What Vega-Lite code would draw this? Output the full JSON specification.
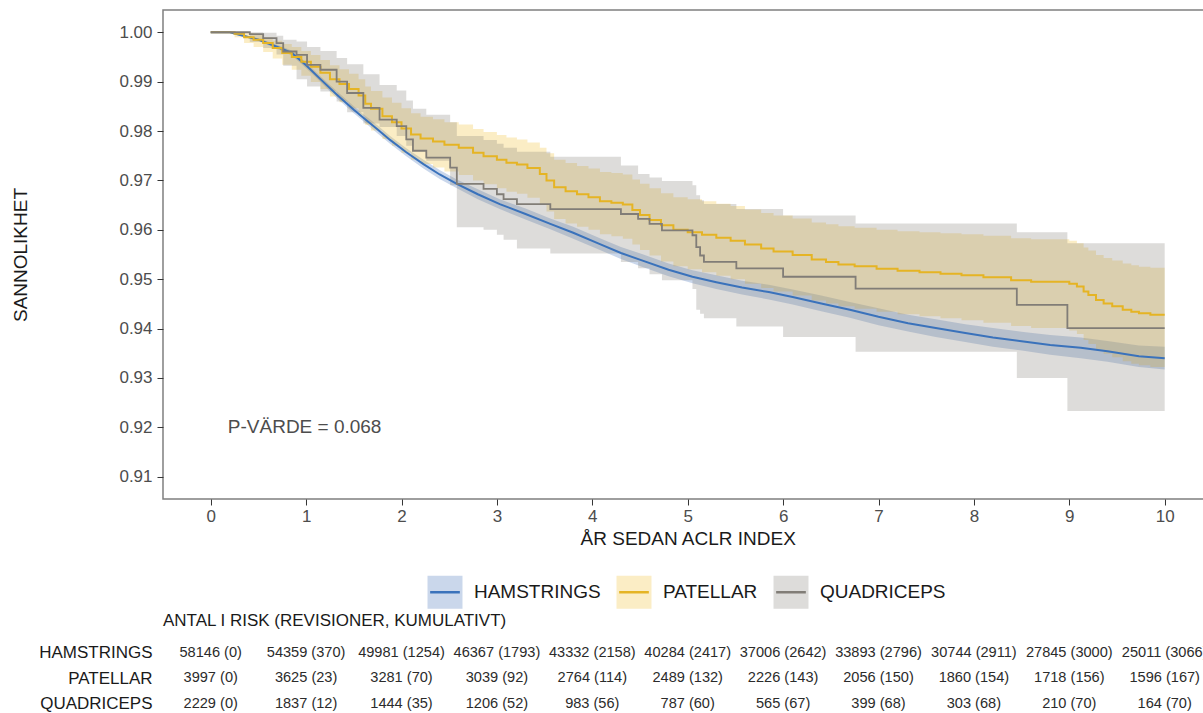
{
  "$schema": "https://vega.github.io/schema/vega-lite/v6.json",
  "padding": {"left": 11, "top": 9, "right": 0, "bottom": 0},
  "background": "white",
  "config": {
    "font": "Liberation Sans",
    "view": {"stroke": null},
    "concat": {"spacing": 62},
    "axis": {"grid": false}
  },
  "datasets": {
    "km": [
      {"band":"HAMSTRINGS","curve":"HAMSTRINGS","t":0,"S":1,"lo":1,"hi":1},
      {"band":"HAMSTRINGS","curve":"HAMSTRINGS","t":0.2,"S":1,"lo":0.9999,"hi":1},
      {"band":"HAMSTRINGS","curve":"HAMSTRINGS","t":0.3,"S":0.9995,"lo":0.9993,"hi":0.9997},
      {"band":"HAMSTRINGS","curve":"HAMSTRINGS","t":0.5,"S":0.9985,"lo":0.9982,"hi":0.9988},
      {"band":"HAMSTRINGS","curve":"HAMSTRINGS","t":0.7,"S":0.997,"lo":0.9966,"hi":0.9974},
      {"band":"HAMSTRINGS","curve":"HAMSTRINGS","t":0.85,"S":0.9958,"lo":0.9953,"hi":0.9963},
      {"band":"HAMSTRINGS","curve":"HAMSTRINGS","t":1.0,"S":0.9933,"lo":0.9927,"hi":0.9939},
      {"band":"HAMSTRINGS","curve":"HAMSTRINGS","t":1.15,"S":0.9905,"lo":0.9899,"hi":0.9911},
      {"band":"HAMSTRINGS","curve":"HAMSTRINGS","t":1.32,"S":0.9874,"lo":0.9867,"hi":0.9881},
      {"band":"HAMSTRINGS","curve":"HAMSTRINGS","t":1.5,"S":0.9843,"lo":0.9836,"hi":0.985},
      {"band":"HAMSTRINGS","curve":"HAMSTRINGS","t":1.6,"S":0.9827,"lo":0.982,"hi":0.9834},
      {"band":"HAMSTRINGS","curve":"HAMSTRINGS","t":1.75,"S":0.9803,"lo":0.9795,"hi":0.9811},
      {"band":"HAMSTRINGS","curve":"HAMSTRINGS","t":1.88,"S":0.9782,"lo":0.9774,"hi":0.979},
      {"band":"HAMSTRINGS","curve":"HAMSTRINGS","t":2.05,"S":0.9757,"lo":0.9749,"hi":0.9765},
      {"band":"HAMSTRINGS","curve":"HAMSTRINGS","t":2.23,"S":0.9733,"lo":0.9724,"hi":0.9742},
      {"band":"HAMSTRINGS","curve":"HAMSTRINGS","t":2.4,"S":0.9712,"lo":0.9703,"hi":0.9721},
      {"band":"HAMSTRINGS","curve":"HAMSTRINGS","t":2.58,"S":0.9693,"lo":0.9684,"hi":0.9702},
      {"band":"HAMSTRINGS","curve":"HAMSTRINGS","t":2.8,"S":0.9672,"lo":0.9662,"hi":0.9682},
      {"band":"HAMSTRINGS","curve":"HAMSTRINGS","t":3.03,"S":0.9652,"lo":0.9642,"hi":0.9662},
      {"band":"HAMSTRINGS","curve":"HAMSTRINGS","t":3.3,"S":0.9632,"lo":0.9621,"hi":0.9643},
      {"band":"HAMSTRINGS","curve":"HAMSTRINGS","t":3.56,"S":0.9612,"lo":0.9601,"hi":0.9623},
      {"band":"HAMSTRINGS","curve":"HAMSTRINGS","t":3.8,"S":0.9594,"lo":0.9582,"hi":0.9606},
      {"band":"HAMSTRINGS","curve":"HAMSTRINGS","t":4.08,"S":0.9571,"lo":0.9559,"hi":0.9583},
      {"band":"HAMSTRINGS","curve":"HAMSTRINGS","t":4.3,"S":0.9553,"lo":0.9541,"hi":0.9565},
      {"band":"HAMSTRINGS","curve":"HAMSTRINGS","t":4.52,"S":0.9538,"lo":0.9525,"hi":0.9551},
      {"band":"HAMSTRINGS","curve":"HAMSTRINGS","t":4.8,"S":0.9519,"lo":0.9506,"hi":0.9532},
      {"band":"HAMSTRINGS","curve":"HAMSTRINGS","t":5.05,"S":0.9505,"lo":0.9492,"hi":0.9518},
      {"band":"HAMSTRINGS","curve":"HAMSTRINGS","t":5.3,"S":0.9494,"lo":0.948,"hi":0.9508},
      {"band":"HAMSTRINGS","curve":"HAMSTRINGS","t":5.57,"S":0.9483,"lo":0.9469,"hi":0.9497},
      {"band":"HAMSTRINGS","curve":"HAMSTRINGS","t":5.85,"S":0.9474,"lo":0.9459,"hi":0.9489},
      {"band":"HAMSTRINGS","curve":"HAMSTRINGS","t":6.1,"S":0.9464,"lo":0.9449,"hi":0.9479},
      {"band":"HAMSTRINGS","curve":"HAMSTRINGS","t":6.4,"S":0.9451,"lo":0.9435,"hi":0.9467},
      {"band":"HAMSTRINGS","curve":"HAMSTRINGS","t":6.7,"S":0.9438,"lo":0.9422,"hi":0.9454},
      {"band":"HAMSTRINGS","curve":"HAMSTRINGS","t":7.0,"S":0.9424,"lo":0.9407,"hi":0.9441},
      {"band":"HAMSTRINGS","curve":"HAMSTRINGS","t":7.31,"S":0.9411,"lo":0.9394,"hi":0.9428},
      {"band":"HAMSTRINGS","curve":"HAMSTRINGS","t":7.6,"S":0.9401,"lo":0.9383,"hi":0.9419},
      {"band":"HAMSTRINGS","curve":"HAMSTRINGS","t":7.91,"S":0.9391,"lo":0.9373,"hi":0.9409},
      {"band":"HAMSTRINGS","curve":"HAMSTRINGS","t":8.2,"S":0.9382,"lo":0.9363,"hi":0.9401},
      {"band":"HAMSTRINGS","curve":"HAMSTRINGS","t":8.52,"S":0.9374,"lo":0.9355,"hi":0.9393},
      {"band":"HAMSTRINGS","curve":"HAMSTRINGS","t":8.8,"S":0.9367,"lo":0.9347,"hi":0.9387},
      {"band":"HAMSTRINGS","curve":"HAMSTRINGS","t":9.12,"S":0.9361,"lo":0.934,"hi":0.9382},
      {"band":"HAMSTRINGS","curve":"HAMSTRINGS","t":9.4,"S":0.9354,"lo":0.9333,"hi":0.9375},
      {"band":"HAMSTRINGS","curve":"HAMSTRINGS","t":9.73,"S":0.9344,"lo":0.9322,"hi":0.9366},
      {"band":"HAMSTRINGS","curve":"HAMSTRINGS","t":10.0,"S":0.934,"lo":0.9317,"hi":0.9363},

      {"band":"PATELLAR","curve":"PATELLAR","t":0,"S":1,"lo":1,"hi":1},
      {"band":"PATELLAR","curve":"PATELLAR","t":0.25,"S":0.9997,"lo":0.999,"hi":1},
      {"band":"PATELLAR","curve":"PATELLAR","t":0.35,"S":0.999,"lo":0.9978,"hi":0.9998},
      {"band":"PATELLAR","curve":"PATELLAR","t":0.45,"S":0.9985,"lo":0.997,"hi":0.9995},
      {"band":"PATELLAR","curve":"PATELLAR","t":0.55,"S":0.9978,"lo":0.996,"hi":0.999},
      {"band":"PATELLAR","curve":"PATELLAR","t":0.65,"S":0.9968,"lo":0.9947,"hi":0.9983},
      {"band":"PATELLAR","curve":"PATELLAR","t":0.75,"S":0.9958,"lo":0.9934,"hi":0.9976},
      {"band":"PATELLAR","curve":"PATELLAR","t":0.85,"S":0.995,"lo":0.9924,"hi":0.997},
      {"band":"PATELLAR","curve":"PATELLAR","t":0.95,"S":0.994,"lo":0.9912,"hi":0.9962},
      {"band":"PATELLAR","curve":"PATELLAR","t":1.05,"S":0.993,"lo":0.9899,"hi":0.9954},
      {"band":"PATELLAR","curve":"PATELLAR","t":1.15,"S":0.9918,"lo":0.9885,"hi":0.9944},
      {"band":"PATELLAR","curve":"PATELLAR","t":1.25,"S":0.9905,"lo":0.987,"hi":0.9933},
      {"band":"PATELLAR","curve":"PATELLAR","t":1.35,"S":0.9895,"lo":0.9858,"hi":0.9925},
      {"band":"PATELLAR","curve":"PATELLAR","t":1.45,"S":0.9885,"lo":0.9846,"hi":0.9916},
      {"band":"PATELLAR","curve":"PATELLAR","t":1.55,"S":0.9872,"lo":0.9831,"hi":0.9905},
      {"band":"PATELLAR","curve":"PATELLAR","t":1.62,"S":0.9855,"lo":0.9812,"hi":0.989},
      {"band":"PATELLAR","curve":"PATELLAR","t":1.68,"S":0.9845,"lo":0.9801,"hi":0.9881},
      {"band":"PATELLAR","curve":"PATELLAR","t":1.8,"S":0.983,"lo":0.9784,"hi":0.9868},
      {"band":"PATELLAR","curve":"PATELLAR","t":1.9,"S":0.9818,"lo":0.977,"hi":0.9857},
      {"band":"PATELLAR","curve":"PATELLAR","t":2.0,"S":0.9805,"lo":0.9756,"hi":0.9846},
      {"band":"PATELLAR","curve":"PATELLAR","t":2.1,"S":0.9793,"lo":0.9742,"hi":0.9836},
      {"band":"PATELLAR","curve":"PATELLAR","t":2.2,"S":0.9785,"lo":0.9733,"hi":0.9829},
      {"band":"PATELLAR","curve":"PATELLAR","t":2.33,"S":0.9779,"lo":0.9726,"hi":0.9824},
      {"band":"PATELLAR","curve":"PATELLAR","t":2.45,"S":0.9772,"lo":0.9718,"hi":0.9818},
      {"band":"PATELLAR","curve":"PATELLAR","t":2.6,"S":0.9766,"lo":0.9711,"hi":0.9813},
      {"band":"PATELLAR","curve":"PATELLAR","t":2.75,"S":0.9756,"lo":0.97,"hi":0.9804},
      {"band":"PATELLAR","curve":"PATELLAR","t":2.86,"S":0.9749,"lo":0.9692,"hi":0.9798},
      {"band":"PATELLAR","curve":"PATELLAR","t":3.0,"S":0.9742,"lo":0.9684,"hi":0.9792},
      {"band":"PATELLAR","curve":"PATELLAR","t":3.1,"S":0.9736,"lo":0.9677,"hi":0.9787},
      {"band":"PATELLAR","curve":"PATELLAR","t":3.21,"S":0.9732,"lo":0.9673,"hi":0.9783},
      {"band":"PATELLAR","curve":"PATELLAR","t":3.32,"S":0.9725,"lo":0.9665,"hi":0.9777},
      {"band":"PATELLAR","curve":"PATELLAR","t":3.45,"S":0.9713,"lo":0.9651,"hi":0.9766},
      {"band":"PATELLAR","curve":"PATELLAR","t":3.52,"S":0.97,"lo":0.9637,"hi":0.9755},
      {"band":"PATELLAR","curve":"PATELLAR","t":3.6,"S":0.9686,"lo":0.9622,"hi":0.9742},
      {"band":"PATELLAR","curve":"PATELLAR","t":3.72,"S":0.9678,"lo":0.9613,"hi":0.9735},
      {"band":"PATELLAR","curve":"PATELLAR","t":3.84,"S":0.9672,"lo":0.9606,"hi":0.9729},
      {"band":"PATELLAR","curve":"PATELLAR","t":3.96,"S":0.9666,"lo":0.96,"hi":0.9724},
      {"band":"PATELLAR","curve":"PATELLAR","t":4.08,"S":0.9658,"lo":0.9591,"hi":0.9717},
      {"band":"PATELLAR","curve":"PATELLAR","t":4.2,"S":0.9655,"lo":0.9587,"hi":0.9715},
      {"band":"PATELLAR","curve":"PATELLAR","t":4.32,"S":0.9651,"lo":0.9582,"hi":0.9712},
      {"band":"PATELLAR","curve":"PATELLAR","t":4.42,"S":0.964,"lo":0.957,"hi":0.9702},
      {"band":"PATELLAR","curve":"PATELLAR","t":4.5,"S":0.963,"lo":0.9559,"hi":0.9693},
      {"band":"PATELLAR","curve":"PATELLAR","t":4.6,"S":0.962,"lo":0.9548,"hi":0.9684},
      {"band":"PATELLAR","curve":"PATELLAR","t":4.72,"S":0.9609,"lo":0.9536,"hi":0.9674},
      {"band":"PATELLAR","curve":"PATELLAR","t":4.85,"S":0.96,"lo":0.9526,"hi":0.9666},
      {"band":"PATELLAR","curve":"PATELLAR","t":5.0,"S":0.9595,"lo":0.952,"hi":0.9662},
      {"band":"PATELLAR","curve":"PATELLAR","t":5.15,"S":0.959,"lo":0.9514,"hi":0.9658},
      {"band":"PATELLAR","curve":"PATELLAR","t":5.3,"S":0.9584,"lo":0.9507,"hi":0.9653},
      {"band":"PATELLAR","curve":"PATELLAR","t":5.45,"S":0.9578,"lo":0.95,"hi":0.9648},
      {"band":"PATELLAR","curve":"PATELLAR","t":5.6,"S":0.957,"lo":0.9491,"hi":0.9641},
      {"band":"PATELLAR","curve":"PATELLAR","t":5.77,"S":0.9562,"lo":0.9482,"hi":0.9634},
      {"band":"PATELLAR","curve":"PATELLAR","t":5.9,"S":0.9556,"lo":0.9475,"hi":0.9629},
      {"band":"PATELLAR","curve":"PATELLAR","t":6.1,"S":0.9549,"lo":0.9467,"hi":0.9623},
      {"band":"PATELLAR","curve":"PATELLAR","t":6.3,"S":0.954,"lo":0.9457,"hi":0.9615},
      {"band":"PATELLAR","curve":"PATELLAR","t":6.45,"S":0.9535,"lo":0.9451,"hi":0.9611},
      {"band":"PATELLAR","curve":"PATELLAR","t":6.58,"S":0.953,"lo":0.9445,"hi":0.9607},
      {"band":"PATELLAR","curve":"PATELLAR","t":6.75,"S":0.9526,"lo":0.944,"hi":0.9604},
      {"band":"PATELLAR","curve":"PATELLAR","t":6.98,"S":0.9521,"lo":0.9434,"hi":0.96},
      {"band":"PATELLAR","curve":"PATELLAR","t":7.2,"S":0.9517,"lo":0.9429,"hi":0.9597},
      {"band":"PATELLAR","curve":"PATELLAR","t":7.43,"S":0.9514,"lo":0.9425,"hi":0.9595},
      {"band":"PATELLAR","curve":"PATELLAR","t":7.65,"S":0.9511,"lo":0.9421,"hi":0.9593},
      {"band":"PATELLAR","curve":"PATELLAR","t":7.87,"S":0.9508,"lo":0.9417,"hi":0.9591},
      {"band":"PATELLAR","curve":"PATELLAR","t":8.1,"S":0.9504,"lo":0.9412,"hi":0.9588},
      {"band":"PATELLAR","curve":"PATELLAR","t":8.39,"S":0.9498,"lo":0.9405,"hi":0.9583},
      {"band":"PATELLAR","curve":"PATELLAR","t":8.6,"S":0.9495,"lo":0.9401,"hi":0.9581},
      {"band":"PATELLAR","curve":"PATELLAR","t":9.0,"S":0.9491,"lo":0.9396,"hi":0.9578},
      {"band":"PATELLAR","curve":"PATELLAR","t":9.08,"S":0.9485,"lo":0.9389,"hi":0.9573},
      {"band":"PATELLAR","curve":"PATELLAR","t":9.15,"S":0.9475,"lo":0.9377,"hi":0.9564},
      {"band":"PATELLAR","curve":"PATELLAR","t":9.2,"S":0.9468,"lo":0.9369,"hi":0.9558},
      {"band":"PATELLAR","curve":"PATELLAR","t":9.28,"S":0.9458,"lo":0.9357,"hi":0.9549},
      {"band":"PATELLAR","curve":"PATELLAR","t":9.36,"S":0.9451,"lo":0.9349,"hi":0.9543},
      {"band":"PATELLAR","curve":"PATELLAR","t":9.45,"S":0.9445,"lo":0.9342,"hi":0.9538},
      {"band":"PATELLAR","curve":"PATELLAR","t":9.56,"S":0.9438,"lo":0.9334,"hi":0.9532},
      {"band":"PATELLAR","curve":"PATELLAR","t":9.65,"S":0.9434,"lo":0.9329,"hi":0.9528},
      {"band":"PATELLAR","curve":"PATELLAR","t":9.73,"S":0.9431,"lo":0.9326,"hi":0.9525},
      {"band":"PATELLAR","curve":"PATELLAR","t":9.85,"S":0.9428,"lo":0.9322,"hi":0.9523},
      {"band":"PATELLAR","curve":"PATELLAR","t":10.0,"S":0.9428,"lo":0.9322,"hi":0.9523},

      {"band":"QUADRICEPS","curve":"QUADRICEPS","t":0,"S":1,"lo":1,"hi":1},
      {"band":"QUADRICEPS","curve":"QUADRICEPS","t":0.41,"S":0.9996,"lo":0.998,"hi":1},
      {"band":"QUADRICEPS","curve":"QUADRICEPS","t":0.55,"S":0.9988,"lo":0.9968,"hi":0.9999},
      {"band":"QUADRICEPS","curve":"QUADRICEPS","t":0.69,"S":0.9978,"lo":0.9955,"hi":0.9993},
      {"band":"QUADRICEPS","curve":"QUADRICEPS","t":0.76,"S":0.9961,"lo":0.9932,"hi":0.9985},
      {"band":"QUADRICEPS","curve":"QUADRICEPS","t":0.9,"S":0.9954,"lo":0.9905,"hi":0.9981},
      {"band":"QUADRICEPS","curve":"QUADRICEPS","t":1.01,"S":0.9934,"lo":0.989,"hi":0.997},
      {"band":"QUADRICEPS","curve":"QUADRICEPS","t":1.15,"S":0.9924,"lo":0.988,"hi":0.9962},
      {"band":"QUADRICEPS","curve":"QUADRICEPS","t":1.32,"S":0.99,"lo":0.986,"hi":0.9948},
      {"band":"QUADRICEPS","curve":"QUADRICEPS","t":1.43,"S":0.9877,"lo":0.9838,"hi":0.9935},
      {"band":"QUADRICEPS","curve":"QUADRICEPS","t":1.6,"S":0.9847,"lo":0.9815,"hi":0.9915},
      {"band":"QUADRICEPS","curve":"QUADRICEPS","t":1.77,"S":0.9823,"lo":0.9808,"hi":0.9893},
      {"band":"QUADRICEPS","curve":"QUADRICEPS","t":1.95,"S":0.981,"lo":0.979,"hi":0.9882},
      {"band":"QUADRICEPS","curve":"QUADRICEPS","t":2.05,"S":0.9783,"lo":0.977,"hi":0.9862},
      {"band":"QUADRICEPS","curve":"QUADRICEPS","t":2.12,"S":0.976,"lo":0.976,"hi":0.9845},
      {"band":"QUADRICEPS","curve":"QUADRICEPS","t":2.26,"S":0.9746,"lo":0.974,"hi":0.9833},
      {"band":"QUADRICEPS","curve":"QUADRICEPS","t":2.51,"S":0.9726,"lo":0.969,"hi":0.9818},
      {"band":"QUADRICEPS","curve":"QUADRICEPS","t":2.58,"S":0.9693,"lo":0.9605,"hi":0.979},
      {"band":"QUADRICEPS","curve":"QUADRICEPS","t":2.86,"S":0.9683,"lo":0.96,"hi":0.9782},
      {"band":"QUADRICEPS","curve":"QUADRICEPS","t":3.0,"S":0.9672,"lo":0.959,"hi":0.9774},
      {"band":"QUADRICEPS","curve":"QUADRICEPS","t":3.07,"S":0.9662,"lo":0.958,"hi":0.9766},
      {"band":"QUADRICEPS","curve":"QUADRICEPS","t":3.21,"S":0.9652,"lo":0.9562,"hi":0.9758},
      {"band":"QUADRICEPS","curve":"QUADRICEPS","t":3.56,"S":0.9642,"lo":0.9552,"hi":0.9748},
      {"band":"QUADRICEPS","curve":"QUADRICEPS","t":4.3,"S":0.9632,"lo":0.9535,"hi":0.973},
      {"band":"QUADRICEPS","curve":"QUADRICEPS","t":4.48,"S":0.9622,"lo":0.9522,"hi":0.9713},
      {"band":"QUADRICEPS","curve":"QUADRICEPS","t":4.6,"S":0.9612,"lo":0.951,"hi":0.9706},
      {"band":"QUADRICEPS","curve":"QUADRICEPS","t":4.73,"S":0.9599,"lo":0.9498,"hi":0.9699},
      {"band":"QUADRICEPS","curve":"QUADRICEPS","t":5.05,"S":0.9589,"lo":0.948,"hi":0.969},
      {"band":"QUADRICEPS","curve":"QUADRICEPS","t":5.09,"S":0.9565,"lo":0.9438,"hi":0.967},
      {"band":"QUADRICEPS","curve":"QUADRICEPS","t":5.13,"S":0.9548,"lo":0.943,"hi":0.966},
      {"band":"QUADRICEPS","curve":"QUADRICEPS","t":5.17,"S":0.9535,"lo":0.9421,"hi":0.9652},
      {"band":"QUADRICEPS","curve":"QUADRICEPS","t":5.51,"S":0.9522,"lo":0.9404,"hi":0.9642},
      {"band":"QUADRICEPS","curve":"QUADRICEPS","t":6.0,"S":0.9505,"lo":0.9383,"hi":0.9629},
      {"band":"QUADRICEPS","curve":"QUADRICEPS","t":6.76,"S":0.9481,"lo":0.9353,"hi":0.9613},
      {"band":"QUADRICEPS","curve":"QUADRICEPS","t":8.45,"S":0.9448,"lo":0.93,"hi":0.9595},
      {"band":"QUADRICEPS","curve":"QUADRICEPS","t":8.98,"S":0.9401,"lo":0.9233,"hi":0.9573},
      {"band":"QUADRICEPS","curve":"QUADRICEPS","t":10.0,"S":0.9401,"lo":0.9233,"hi":0.9573}
    ],
    "risk": [
      {"group":"HAMSTRINGS","t":0,"n":"58146 (0)"},
      {"group":"HAMSTRINGS","t":1,"n":"54359 (370)"},
      {"group":"HAMSTRINGS","t":2,"n":"49981 (1254)"},
      {"group":"HAMSTRINGS","t":3,"n":"46367 (1793)"},
      {"group":"HAMSTRINGS","t":4,"n":"43332 (2158)"},
      {"group":"HAMSTRINGS","t":5,"n":"40284 (2417)"},
      {"group":"HAMSTRINGS","t":6,"n":"37006 (2642)"},
      {"group":"HAMSTRINGS","t":7,"n":"33893 (2796)"},
      {"group":"HAMSTRINGS","t":8,"n":"30744 (2911)"},
      {"group":"HAMSTRINGS","t":9,"n":"27845 (3000)"},
      {"group":"HAMSTRINGS","t":10,"n":"25011 (3066)"},
      {"group":"PATELLAR","t":0,"n":"3997 (0)"},
      {"group":"PATELLAR","t":1,"n":"3625 (23)"},
      {"group":"PATELLAR","t":2,"n":"3281 (70)"},
      {"group":"PATELLAR","t":3,"n":"3039 (92)"},
      {"group":"PATELLAR","t":4,"n":"2764 (114)"},
      {"group":"PATELLAR","t":5,"n":"2489 (132)"},
      {"group":"PATELLAR","t":6,"n":"2226 (143)"},
      {"group":"PATELLAR","t":7,"n":"2056 (150)"},
      {"group":"PATELLAR","t":8,"n":"1860 (154)"},
      {"group":"PATELLAR","t":9,"n":"1718 (156)"},
      {"group":"PATELLAR","t":10,"n":"1596 (167)"},
      {"group":"QUADRICEPS","t":0,"n":"2229 (0)"},
      {"group":"QUADRICEPS","t":1,"n":"1837 (12)"},
      {"group":"QUADRICEPS","t":2,"n":"1444 (35)"},
      {"group":"QUADRICEPS","t":3,"n":"1206 (52)"},
      {"group":"QUADRICEPS","t":4,"n":"983 (56)"},
      {"group":"QUADRICEPS","t":5,"n":"787 (60)"},
      {"group":"QUADRICEPS","t":6,"n":"565 (67)"},
      {"group":"QUADRICEPS","t":7,"n":"399 (68)"},
      {"group":"QUADRICEPS","t":8,"n":"303 (68)"},
      {"group":"QUADRICEPS","t":9,"n":"210 (70)"},
      {"group":"QUADRICEPS","t":10,"n":"164 (70)"}
    ]
  },
  "vconcat": [
    {
      "width": 1049.4,
      "height": 489,
      "view": {"stroke": "#7f7f7f", "strokeWidth": 1.5},
      "data": {"name": "km"},
      "layer": [
        {
          "encoding": {
            "x": {"field": "t", "type": "quantitative",
                  "scale": {"domain": [-0.5, 10.5], "nice": false, "zero": false},
                  "axis": {"values": [0,1,2,3,4,5,6,7,8,9,10], "format": "d", "title": "ÅR SEDAN ACLR INDEX",
                           "domain": false, "tickSize": 6, "tickColor": "#333333", "labelFontSize": 17, "labelColor": "#4d4d4d",
                           "labelPadding": 4, "titleFontSize": 19, "titleFontWeight": "normal", "titleColor": "#1a1a1a", "titlePadding": 5}},
            "y": {"field": "lo", "type": "quantitative", "stack": null,
                  "scale": {"domain": [0.9055, 1.0045], "nice": false, "zero": false},
                  "axis": {"values": [0.91,0.92,0.93,0.94,0.95,0.96,0.97,0.98,0.99,1.0], "format": ".2f", "title": "SANNOLIKHET",
                           "domain": false, "tickSize": 6, "tickColor": "#333333", "labelFontSize": 17, "labelColor": "#4d4d4d",
                           "labelPadding": 5, "titleFontSize": 19, "titleFontWeight": "normal", "titleColor": "#1a1a1a", "titlePadding": 88}},
            "y2": {"field": "hi"},
            "fill": {"field": "band", "type": "nominal",
                     "scale": {"domain": ["HAMSTRINGS","PATELLAR","QUADRICEPS"], "range": ["#3a6bb5","#f0bd2a","#807f78"]},
                     "legend": {"orient": "none", "legendX": 264, "legendY": 564, "direction": "horizontal", "title": null,
                                "symbolType": "M-0.9,0L1.06,0L1.06,-1L-1.06,-1L-1.06,1L1.06,1L1.06,0",
                                "symbolSize": 1089, "symbolOpacity": 1, "symbolStrokeWidth": 2.5, "symbolDash": [29.7, 3000],
                                "labelFontSize": 19, "labelColor": "#1a1a1a", "labelOffset": 11, "columnPadding": 10,
                                "encode": {"symbols": {"update": {"fillOpacity": {"value": 0.27}, "strokeOpacity": {"value": 1}}}}}}
          },
          "layer": [
            {"transform": [{"filter": "datum.band == 'HAMSTRINGS'"}], "mark": {"type": "area", "opacity": 0.27}},
            {"transform": [{"filter": "datum.band == 'PATELLAR'"}], "mark": {"type": "area", "interpolate": "step-after", "opacity": 0.27}},
            {"transform": [{"filter": "datum.band == 'QUADRICEPS'"}], "mark": {"type": "area", "interpolate": "step-after", "opacity": 0.27}}
          ]
        },
        {
          "encoding": {
            "x": {"field": "t", "type": "quantitative"},
            "y": {"field": "S", "type": "quantitative"},
            "stroke": {"field": "curve", "type": "nominal",
                       "scale": {"domain": ["HAMSTRINGS","PATELLAR","QUADRICEPS"], "range": ["#3a72bb","#e5b424","#817d77"]},
                       "legend": {"orient": "none", "legendX": 264, "legendY": 564, "direction": "horizontal", "title": null,
                                  "symbolType": "M-0.9,0L1.06,0L1.06,-1L-1.06,-1L-1.06,1L1.06,1L1.06,0",
                                  "symbolSize": 1089, "symbolOpacity": 1, "symbolStrokeWidth": 2.5, "symbolDash": [29.7, 3000],
                                  "labelFontSize": 19, "labelColor": "#1a1a1a", "labelOffset": 11, "columnPadding": 10,
                                  "encode": {"symbols": {"update": {"fillOpacity": {"value": 0.27}, "strokeOpacity": {"value": 1}}}}}}
          },
          "layer": [
            {"transform": [{"filter": "datum.curve == 'HAMSTRINGS'"}], "mark": {"type": "line", "strokeWidth": 2}},
            {"transform": [{"filter": "datum.curve == 'PATELLAR'"}], "mark": {"type": "line", "interpolate": "step-after", "strokeWidth": 2}},
            {"transform": [{"filter": "datum.curve == 'QUADRICEPS'"}], "mark": {"type": "line", "interpolate": "step-after", "strokeWidth": 1.8}}
          ]
        },
        {
          "data": {"values": [{"t": 0.18, "S": 0.92, "txt": "P-VÄRDE = 0.068"}]},
          "mark": {"type": "text", "align": "left", "baseline": "middle", "fontSize": 19, "color": "#4d4d4d"},
          "encoding": {
            "x": {"field": "t", "type": "quantitative"},
            "y": {"field": "S", "type": "quantitative"},
            "text": {"field": "txt"}
          }
        }
      ]
    },
    {
      "width": 1049.4,
      "height": 51,
      "title": {"text": "ANTAL I RISK (REVISIONER, KUMULATIVT)", "anchor": "start", "frame": "group", "fontSize": 17,
                "fontWeight": "normal", "color": "#1a1a1a", "offset": 14},
      "data": {"name": "risk"},
      "mark": {"type": "text", "fontSize": 14.6, "color": "#2b2b2b", "baseline": "middle"},
      "encoding": {
        "x": {"field": "t", "type": "quantitative", "scale": {"domain": [-0.5, 10.5], "nice": false, "zero": false}, "axis": null},
        "y": {"field": "group", "type": "nominal", "sort": ["HAMSTRINGS","PATELLAR","QUADRICEPS"],
              "scale": {"type": "point", "padding": 0},
              "axis": {"title": null, "domain": false, "ticks": false, "labelFontSize": 17, "labelColor": "#1a1a1a", "labelPadding": 11}},
        "text": {"field": "n"}
      }
    }
  ]
}
